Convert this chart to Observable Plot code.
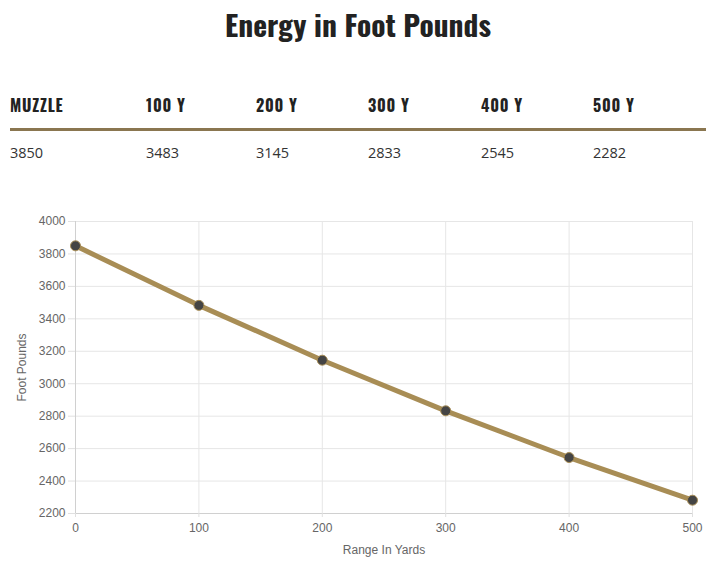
<!DOCTYPE html>
<html><head><meta charset="utf-8">
<script src="https://cdn.jsdelivr.net/npm/d3@7"></script>
<script src="https://cdn.jsdelivr.net/npm/@observablehq/plot@0.6"></script>
<style>
body{margin:0;background:#fff;width:716px;height:572px;position:relative;overflow:hidden;}
#title{position:absolute;left:0;width:716px;top:4px;text-align:center;font-family:Oswald,"Liberation Sans Narrow","DejaVu Sans Condensed","DejaVu Sans",sans-serif;font-stretch:condensed;font-weight:bold;font-size:29.5px;color:#222;line-height:40px;}
.hd{position:absolute;top:94px;font-family:Oswald,"Liberation Sans Narrow","DejaVu Sans Condensed","DejaVu Sans",sans-serif;font-stretch:condensed;font-weight:bold;font-size:16px;letter-spacing:0.8px;color:#222;line-height:22px;}
.val{position:absolute;top:143px;font-family:"Open Sans",sans-serif;font-size:14.5px;color:#333;line-height:20px;}
#rule{position:absolute;left:10px;width:696px;top:128px;height:3px;background:#8a7650;}
#chart{position:absolute;left:0;top:205px;}
</style></head><body>
<div id="title">Energy in Foot Pounds</div>
<div id="rule"></div>
<div id="chart"></div>
<script>
const headers = ["MUZZLE","100 Y","200 Y","300 Y","400 Y","500 Y"];
const yards = [0,100,200,300,400,500];
const energy = [3850,3483,3145,2833,2545,2282];
const yTicks = [2200,2400,2600,2800,3000,3200,3400,3600,3800,4000];
const xTicks = [0,100,200,300,400,500];
const colLeft = [10,146,256,368,481,593];

headers.forEach((h,i)=>{
  const d=document.createElement("div");d.className="hd";d.style.left=colLeft[i]+"px";d.textContent=h;document.body.appendChild(d);
  const v=document.createElement("div");v.className="val";v.style.left=colLeft[i]+"px";v.textContent=energy[i];document.body.appendChild(v);
});

const data = yards.map((x,i)=>({x, y: energy[i]}));
const chart = Plot.plot({
  width:716, height:362,
  marginLeft:75, marginRight:24, marginTop:16, marginBottom:54,
  style:{fontFamily:"'Liberation Sans', Arial, sans-serif", fontSize:"12px", color:"#666", background:"#fff"},
  x:{domain:[0,500]},
  y:{domain:[2200,4000]},
  marks:[
    Plot.gridX(xTicks,{stroke:"#e6e6e6", strokeOpacity:1}),
    Plot.gridY(yTicks,{stroke:"#e6e6e6", strokeOpacity:1}),
    Plot.ruleX([0],{stroke:"#d0d0d0"}),
    Plot.ruleY([2200],{stroke:"#d0d0d0"}),
    Plot.axisY(yTicks,{tickSize:7, tickPadding:3, tickFormat:d3.format("d"), stroke:"#e0e0e0", fill:"#666", label:"Foot Pounds", labelAnchor:"center", labelArrow:"none", labelOffset:58}),
    Plot.axisX(xTicks,{tickSize:4, tickPadding:6, tickFormat:d3.format("d"), stroke:"#e0e0e0", fill:"#666", label:"Range In Yards", labelAnchor:"center", labelArrow:"none", labelOffset:40}),
    Plot.line(data,{x:"x", y:"y", stroke:"#a88d55", strokeWidth:5}),
    Plot.dot(data,{x:"x", y:"y", r:5, fill:"#444", stroke:"#a88d55", strokeWidth:1})
  ]
});
document.getElementById("chart").appendChild(chart);
</script>
</body></html>
